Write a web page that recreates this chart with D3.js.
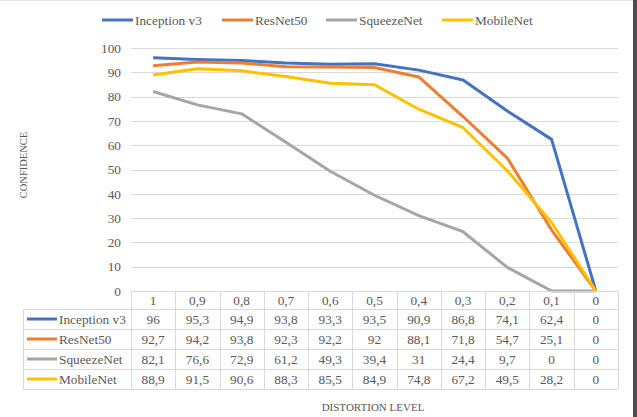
<!DOCTYPE html>
<html>
<head>
<meta charset="utf-8">
<script src="https://cdn.jsdelivr.net/npm/d3@7"></script>
<style>
  body { margin: 0; background: #fff; }
  svg text { font-family: "Liberation Serif", "Times New Roman", serif !important; }
</style>
</head>
<body>
<div class="chart"></div>
<script>
const levels = ["1", "0,9", "0,8", "0,7", "0,6", "0,5", "0,4", "0,3", "0,2", "0,1", "0"];
const seriesNames = ["Inception v3", "ResNet50", "SqueezeNet", "MobileNet"];
const inception = [96, 95.3, 94.9, 93.8, 93.3, 93.5, 90.9, 86.8, 74.1, 62.4, 0];
const resnet = [92.7, 94.2, 93.8, 92.3, 92.2, 92, 88.1, 71.8, 54.7, 25.1, 0];
const squeeze = [82.1, 76.6, 72.9, 61.2, 49.3, 39.4, 31, 24.4, 9.7, 0, 0];
const mobile = [88.9, 91.5, 90.6, 88.3, 85.5, 84.9, 74.8, 67.2, 49.5, 28.2, 0];
const yTicks = [0, 10, 20, 30, 40, 50, 60, 70, 80, 90, 100];

const colors = ["#4472C4", "#ED7D31", "#A5A5A5", "#FFC000"];
const textColor = "#595959";
const gridColor = "#d9d9d9";
const serif = "Liberation Serif";

const series = seriesNames.map((name, i) => ({
    name: name,
    color: colors[i],
    values: [inception, resnet, squeeze, mobile][i]
}));

const width = 637, height = 417;
const svg = d3.select("div.chart").append("svg")
    .attr("width", width)
    .attr("height", height)
    .attr("font-family", serif);

// frame
svg.append("line")
    .attr("x1", 0).attr("x2", width).attr("y1", 0.5).attr("y2", 0.5)
    .attr("stroke", "#e6e6e6");
svg.append("rect")
    .attr("x", 633).attr("y", 0).attr("width", 4).attr("height", height)
    .attr("fill", "#4d4d4d");

const x = d3.scaleBand()
    .domain(levels)
    .range([131, 618]);

const y = d3.scaleLinear()
    .domain([0, 100])
    .range([291, 48]);

// gridlines
svg.append("g")
    .selectAll("line")
    .data(yTicks)
    .enter().append("line")
    .attr("x1", 131).attr("x2", 618)
    .attr("y1", d => Math.round(y(d)) + 0.5)
    .attr("y2", d => Math.round(y(d)) + 0.5)
    .attr("stroke", gridColor);

// y axis labels
const yAxis = svg.append("g")
    .attr("transform", "translate(121,0)")
    .call(d3.axisLeft(y).tickValues(yTicks).tickSize(0).tickPadding(0))
    .attr("font-family", serif)
    .attr("font-size", 13.3);
yAxis.select(".domain").remove();
yAxis.selectAll("text")
    .attr("fill", textColor);

// lines
const line = d3.line()
    .x((d, i) => x(levels[i]) + x.bandwidth() / 2)
    .y(d => y(d));

svg.append("g")
    .selectAll("path")
    .data(series)
    .enter().append("path")
    .attr("d", d => line(d.values))
    .attr("fill", "none")
    .attr("stroke", d => d.color)
    .attr("stroke-width", 3)
    .attr("stroke-linejoin", "round");

// data table
const rowTop = 309, rowH = 20, headTop = 291;
const table = svg.append("g")
    .attr("font-size", 13.3)
    .attr("fill", textColor);

table.selectAll("text.head")
    .data(levels)
    .enter().append("text")
    .attr("class", "head")
    .attr("x", d => x(d) + x.bandwidth() / 2)
    .attr("y", headTop + 9)
    .attr("dy", "0.35em")
    .attr("text-anchor", "middle")
    .text(d => d);

const rows = table.selectAll("g.row")
    .data(series)
    .enter().append("g")
    .attr("class", "row")
    .attr("transform", (d, i) => `translate(0,${rowTop + i * rowH})`);

rows.append("line")
    .attr("x1", 27).attr("x2", 57)
    .attr("y1", rowH / 2).attr("y2", rowH / 2)
    .attr("stroke", d => d.color)
    .attr("stroke-width", 3);

rows.append("text")
    .attr("x", 59)
    .attr("y", rowH / 2)
    .attr("dy", "0.35em")
    .text(d => d.name);

rows.selectAll("text.val")
    .data(d => d.values)
    .enter().append("text")
    .attr("class", "val")
    .attr("x", (d, i) => x(levels[i]) + x.bandwidth() / 2)
    .attr("y", rowH / 2)
    .attr("dy", "0.35em")
    .attr("text-anchor", "middle")
    .text(d => String(d).replace(".", ","));

// table borders
const hLines = [headTop, rowTop, rowTop + rowH, rowTop + 2 * rowH, rowTop + 3 * rowH, rowTop + 4 * rowH];
table.selectAll("line.h")
    .data(hLines)
    .enter().append("line")
    .attr("class", "h")
    .attr("x1", (d, i) => i === 0 ? 131 : 23)
    .attr("x2", 618)
    .attr("y1", d => d + 0.5).attr("y2", d => d + 0.5)
    .attr("stroke", gridColor);

const vLines = levels.map(d => x(d)).concat([618]);
table.selectAll("line.v")
    .data(vLines)
    .enter().append("line")
    .attr("class", "v")
    .attr("x1", d => Math.round(d) + 0.5).attr("x2", d => Math.round(d) + 0.5)
    .attr("y1", headTop).attr("y2", rowTop + 4 * rowH)
    .attr("stroke", gridColor);
table.append("line")
    .attr("x1", 23.5).attr("x2", 23.5)
    .attr("y1", rowTop).attr("y2", rowTop + 4 * rowH)
    .attr("stroke", gridColor);

// legend
const legendX = [102, 222, 326, 442];
const legend = svg.append("g")
    .attr("font-size", 13.3)
    .selectAll("g")
    .data(series)
    .enter().append("g")
    .attr("transform", (d, i) => `translate(${legendX[i]},20)`);
legend.append("line")
    .attr("x1", 0).attr("x2", 31)
    .attr("stroke", d => d.color)
    .attr("stroke-width", 3);
legend.append("text")
    .attr("x", 33)
    .attr("dy", "0.35em")
    .attr("fill", textColor)
    .text(d => d.name);

// axis titles
svg.append("text")
    .attr("transform", "translate(23,165) rotate(-90)")
    .attr("text-anchor", "middle")
    .attr("dy", "0.35em")
    .attr("fill", textColor)
    .attr("font-size", 10.5)
    .text("CONFIDENCE");

svg.append("text")
    .attr("x", 373)
    .attr("y", 407)
    .attr("text-anchor", "middle")
    .attr("dy", "0.35em")
    .attr("fill", textColor)
    .attr("font-size", 11)
    .text("DISTORTION LEVEL");
</script>
</body>
</html>
